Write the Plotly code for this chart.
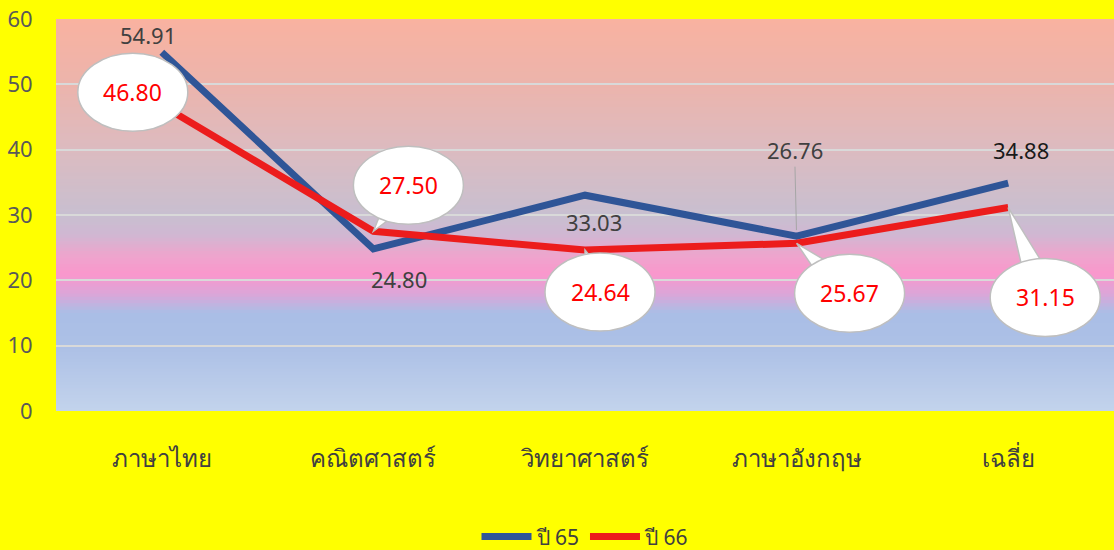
import plotly.graph_objects as go

categories = ["ภาษาไทย", "คณิตศาสตร์", "วิทยาศาสตร์", "ภาษาอังกฤษ", "เฉลี่ย"]
y65 = [54.91, 24.80, 33.03, 26.76, 34.88]
y66 = [46.80, 27.50, 24.64, 25.67, 31.15]
series_names = ["ปี 65", "ปี 66"]

# background gradient stops (value, colour)
grad_stops = [(0, (195, 211, 236)), (10, (172, 192, 230)), (15, (170, 190, 230)),
              (18, (221, 165, 216)), (21, (250, 151, 204)), (24, (236, 166, 205)),
              (27, (208, 183, 210)), (30, (200, 191, 208)), (40, (220, 187, 192)),
              (50, (236, 180, 172)), (60, (249, 178, 160))]

# callout offsets (pixels) for red labels: centre of ellipse relative to point
red_off = [(-29, 13), (35, 46), (15, -42), (53, -50), (37, -90)]
blue_off = [(-14, 17), (26, -30), (9, -27), None, (13, 33)]

BLUE = "#2F5597"
RED = "#EC1C1C"
FONT = "Noto Sans, Tahoma, sans-serif"

def interp(v):
    for (a, ca), (b, cb) in zip(grad_stops[:-1], grad_stops[1:]):
        if a <= v <= b:
            t = (v - a) / (b - a) if b > a else 0
            c = [round(ca[i] + (cb[i] - ca[i]) * t) for i in range(3)]
            return "rgb(%d,%d,%d)" % tuple(c)
    return "rgb(%d,%d,%d)" % grad_stops[-1][1]

fig = go.Figure()
fig.add_trace(go.Scatter(x=categories, y=y65, mode="lines", name=series_names[0],
                         line=dict(color=BLUE, width=7)))
fig.add_trace(go.Scatter(x=categories, y=y66, mode="lines", name=series_names[1],
                         line=dict(color=RED, width=7)))

shapes = []
N = 120
for i in range(N):
    v0 = 60 * i / N
    v1 = 60 * (i + 1) / N
    shapes.append(dict(type="rect", xref="paper", yref="y", x0=0, x1=1, y0=v0,
                       y1=min(60, v1 + 0.35),
                       fillcolor=interp((v0 + v1) / 2), line=dict(width=0), layer="below"))

annotations = []
RX, RY = 55, 39
for i, (cat, v) in enumerate(zip(categories, y66)):
    dx, dy = red_off[i]
    d = (dx * dx + dy * dy) ** 0.5
    px, py = -dy / d, dx / d
    hw = 16
    path = "M 0 0 L %.1f %.1f L %.1f %.1f Z" % (dx + px * hw, dy + py * hw, dx - px * hw, dy - py * hw)
    shapes.append(dict(type="path", xref="x", yref="y", xsizemode="pixel", ysizemode="pixel",
                       xanchor=cat, yanchor=v, path=path, fillcolor="white",
                       line=dict(color="#BFBFBF", width=1.5), layer="above"))
    shapes.append(dict(type="circle", xref="x", yref="y", xsizemode="pixel", ysizemode="pixel",
                       xanchor=cat, yanchor=v, x0=dx - RX, x1=dx + RX, y0=dy - RY, y1=dy + RY,
                       fillcolor="white", line=dict(color="#BFBFBF", width=1.5), layer="above"))
    annotations.append(dict(x=cat, y=v, xref="x", yref="y", text="%.2f" % v, showarrow=False,
                            xshift=dx, yshift=dy, font=dict(family=FONT, size=23, color="#FF0000")))

for i, (cat, v) in enumerate(zip(categories, y65)):
    off = blue_off[i]
    col = "#1A1A1A" if i == 4 else "#404040"
    if off is None:
        annotations.append(dict(x=cat, y=v, xref="x", yref="y", text="%.2f" % v, showarrow=True,
                                arrowhead=0, arrowwidth=1, arrowcolor="#A6A6A6", ax=-2, ay=-86,
                                standoff=6, font=dict(family=FONT, size=22, color=col)))
    else:
        annotations.append(dict(x=cat, y=v, xref="x", yref="y", text="%.2f" % v, showarrow=False,
                                xshift=off[0], yshift=off[1],
                                font=dict(family=FONT, size=22, color=col)))

fig.update_layout(
    width=1114, height=550,
    paper_bgcolor="#FFFF00", plot_bgcolor="rgba(0,0,0,0)",
    margin=dict(l=56, r=0, t=19, b=139, autoexpand=False),
    shapes=shapes, annotations=annotations,
    showlegend=True,
    legend=dict(orientation="h", x=0.5, xanchor="center", yref="container", y=0.024,
                yanchor="middle", itemwidth=50,
                font=dict(family=FONT, size=21, color="#404040"), bgcolor="rgba(0,0,0,0)"),
    xaxis=dict(range=[-0.5, 4.5], showgrid=False, showline=False, zeroline=False,
               ticks="outside", ticklen=26, automargin=False,
               tickcolor="rgba(0,0,0,0)", tickfont=dict(family=FONT, size=24, color="#404040")),
    yaxis=dict(range=[0, 60], dtick=10, showgrid=True, gridcolor="#D9D9D9", gridwidth=2,
               zeroline=False, showline=False, ticks="outside", ticklen=18, automargin=False,
               tickcolor="rgba(0,0,0,0)",
               tickfont=dict(family=FONT, size=22, color="#595959")),
)

fig.write_html("out.html", config={"displayModeBar": False},
               post_script="document.body.style.margin='0';document.body.style.overflow='hidden';")
